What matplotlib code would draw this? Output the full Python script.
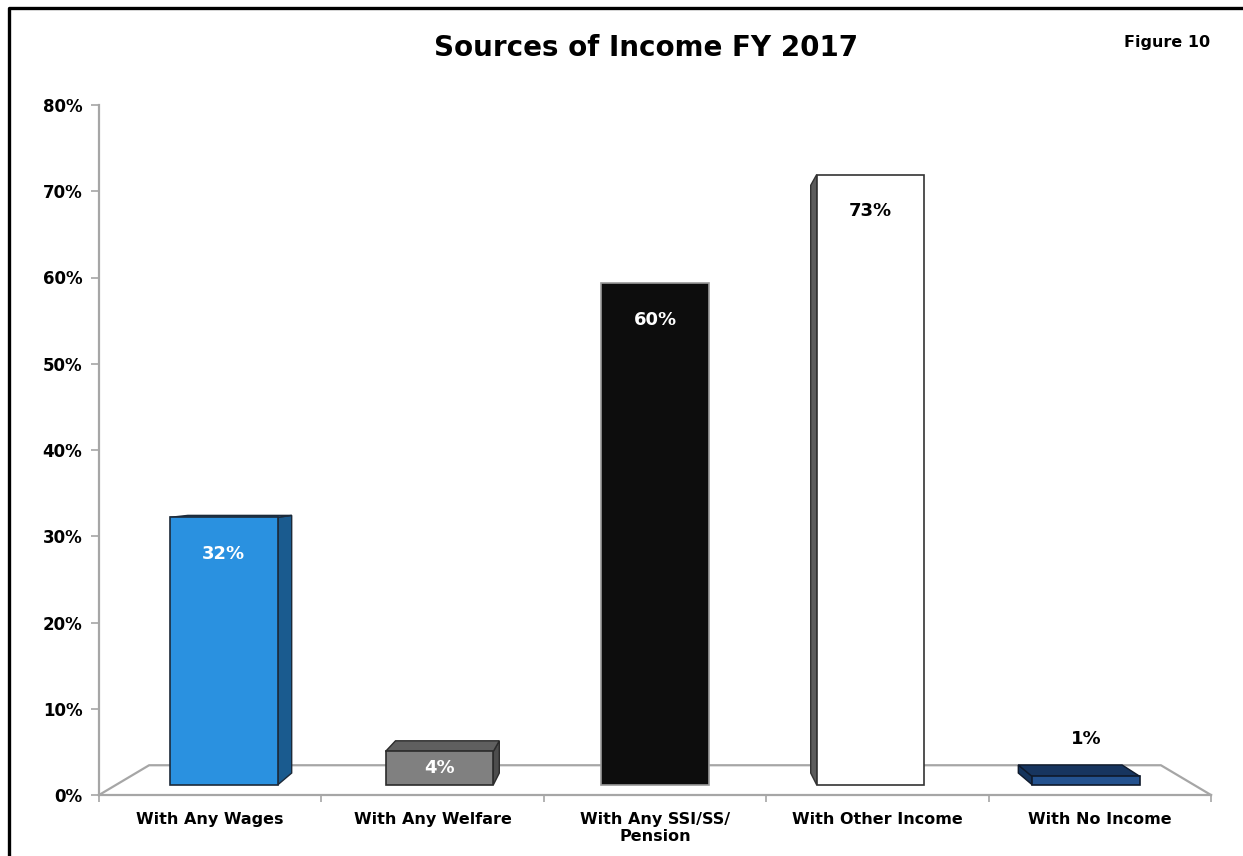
import numpy as np
import matplotlib.pyplot as plt
from matplotlib.patches import Polygon
from matplotlib.lines import Line2D

plt.rcParams["font.family"] = ["DejaVu Sans"]
plt.rcParams["font.weight"] = "bold"

# data
categories = ["With Any Wages", "With Any Welfare", "With Any SSI/SS/\nPension",
              "With Other Income", "With No Income"]
values = [32, 4, 60, 73, 1]
value_labels = ["32%", "4%", "60%", "73%", "1%"]
y_ticks = [0, 10, 20, 30, 40, 50, 60, 70, 80]
y_tick_labels = ["0%", "10%", "20%", "30%", "40%", "50%", "60%", "70%", "80%"]

# styles per bar: front, top, side, edge, label colour, label placement
front_colors = ["#2a91e0", "#808080", "#0d0d0d", "#ffffff", "#24528f"]
top_colors = ["#1f6fae", "#5f5f5f", "#0d0d0d", "#e0e0e0", "#17355f"]
side_colors = ["#1a5b8f", "#4d4d4d", "#0d0d0d", "#5c5c5c", "#15345c"]
edge_colors = ["#1c2a3a", "#2b2b2b", "#9a9a9a", "#333333", "#0f1a2c"]
label_colors = ["white", "white", "white", "black", "black"]
label_pos = ["inside", "center", "inside", "inside", "above"]

# simple one-point perspective: depth z in [0, 1] (front to back of the floor)
VP = (2.5, 38.3)
K = 0.099
BAR_W = 0.5
Z0, Z1 = 0.32, 0.72


def project(x, y, z):
    s = 1.0 / (1.0 + K * z)
    return VP[0] + (x - VP[0]) * s, VP[1] + (y - VP[1]) * s


def face(pts):
    return [project(*p) for p in pts]


fig = plt.figure(figsize=(12.43, 8.56), dpi=100)
ax = fig.add_axes([99 / 1243, 61 / 856, 1112 / 1243, 690 / 856])
ax.set_xlim(0, 5)
ax.set_ylim(0, 80)

# floor outline
n = len(categories)
floor = face([(0, 0, 0), (0, 0, 1), (n, 0, 1), (n, 0, 0)])
fx, fy = zip(*floor)
ax.plot(fx, fy, color="#a6a6a6", lw=1.6, zorder=1, clip_on=False)

for i, v in enumerate(values):
    x0 = i + 0.5 - BAR_W / 2
    x1 = i + 0.5 + BAR_W / 2
    ec = edge_colors[i]
    # side face toward the vanishing point
    if x1 < VP[0]:
        side = face([(x1, 0, Z0), (x1, 0, Z1), (x1, v, Z1), (x1, v, Z0)])
        ax.add_patch(Polygon(side, closed=True, fc=side_colors[i], ec=ec, lw=1, zorder=2))
    elif x0 > VP[0]:
        side = face([(x0, 0, Z0), (x0, 0, Z1), (x0, v, Z1), (x0, v, Z0)])
        ax.add_patch(Polygon(side, closed=True, fc=side_colors[i], ec=ec, lw=1, zorder=2))
    # top face visible when below eye level
    if v < VP[1]:
        top = face([(x0, v, Z0), (x1, v, Z0), (x1, v, Z1), (x0, v, Z1)])
        ax.add_patch(Polygon(top, closed=True, fc=top_colors[i], ec=ec, lw=1, zorder=2))
    front = face([(x0, 0, Z0), (x1, 0, Z0), (x1, v, Z0), (x0, v, Z0)])
    ax.add_patch(Polygon(front, closed=True, fc=front_colors[i], ec=ec, lw=1.2, zorder=3))

    if label_pos[i] == "inside":
        ly = v - 4.4
    elif label_pos[i] == "center":
        ly = v / 2
    else:
        ly = v + 4.5
    lx, ly = project(i + 0.5, ly, Z0)
    ax.text(lx, ly, value_labels[i], ha="center", va="center", fontsize=13,
            fontweight="bold", color=label_colors[i], zorder=4)

# axes styling
for side in ["top", "right"]:
    ax.spines[side].set_visible(False)
for side in ["left", "bottom"]:
    ax.spines[side].set_color("#a6a6a6")
    ax.spines[side].set_linewidth(1.6)

ax.set_yticks(y_ticks)
ax.set_yticklabels(y_tick_labels, fontsize=12, fontweight="bold")
ax.tick_params(axis="y", length=6, width=1.2, color="#a6a6a6", pad=6)

ax.set_xticks(np.arange(n + 1))
ax.set_xticklabels([])
ax.set_xticks(np.arange(n) + 0.5, minor=True)
ax.set_xticklabels(categories, minor=True, fontsize=11.5, fontweight="bold",
                   linespacing=1.2)
ax.tick_params(axis="x", which="major", length=5, width=1.2, color="#a6a6a6", direction="out")
ax.tick_params(axis="x", which="minor", length=0, pad=12)

# titles
fig.text(646 / 1243, 1 - 48 / 856, "Sources of Income FY 2017", ha="center", va="center",
         fontsize=20, fontweight="bold")
fig.text(1210 / 1243, 1 - 42 / 856, "Figure 10", ha="right", va="center",
         fontsize=11.5, fontweight="bold")

# page frame around the figure
fx0 = 8.5 / 1243
fy0 = 1 - 7.5 / 856
fig.add_artist(Line2D([fx0, fx0, 1.0], [0.0, fy0, fy0], color="black", lw=2.4,
                      transform=fig.transFigure))

fig.savefig("out.png", dpi=100)
